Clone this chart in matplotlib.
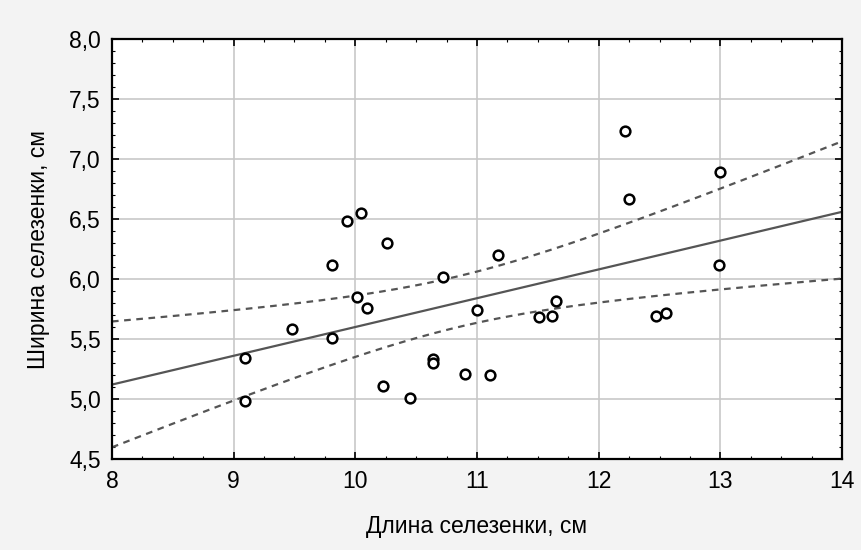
import numpy as np
import matplotlib
matplotlib.use('Agg')
import matplotlib.pyplot as plt
from matplotlib.ticker import MultipleLocator

# Длина и ширина селезенки (см)
dlina = [9.09, 9.09, 9.48, 9.81, 9.81, 9.93, 10.05, 10.01, 10.10, 10.26,
         10.23, 10.45, 10.64, 10.64, 10.72, 10.90, 11.00, 11.11, 11.17,
         11.51, 11.62, 11.65, 12.47, 12.55, 12.99, 12.22, 12.25, 13.00]
shirina = [5.34, 4.98, 5.58, 6.12, 5.51, 6.48, 6.55, 5.85, 5.76, 6.30,
           5.11, 5.01, 5.33, 5.30, 6.02, 5.21, 5.74, 5.20, 6.20,
           5.68, 5.69, 5.82, 5.69, 5.72, 6.12, 7.23, 6.67, 6.89]

# Линия регрессии и границы 95% доверительного интервала
fit_x = [8, 14]
fit_y = [5.12, 6.56]
band_x = [8, 9, 10, 11, 12, 13, 14]
band_upper = [5.65, 5.73, 5.84, 6.03, 6.47, 6.73, 7.13]
band_lower = [4.59, 4.99, 5.35, 5.66, 5.81, 5.91, 5.99]

plt.rcParams['font.family'] = ['Liberation Sans', 'DejaVu Sans']

fig = plt.figure(figsize=(8.61, 5.5), dpi=100)
fig.patch.set_facecolor('#f3f3f3')
ax = fig.add_axes([0.130, 0.1655, 0.848, 0.7635])
ax.set_facecolor('white')

# сглаживание границ: полуширина^2 как квадратичная функция x
bx = np.array(band_x, dtype=float)
centre = np.interp(bx, fit_x, fit_y)
hw = (np.array(band_upper) - np.array(band_lower)) / 2
mid_shift = (np.array(band_upper) + np.array(band_lower)) / 2 - centre
hw_coef = np.polyfit(bx, hw ** 2, 2)
xs = np.linspace(8, 14, 200)
ys = np.interp(xs, fit_x, fit_y) + np.polyval(np.polyfit(bx, mid_shift, 1), xs)
hws = np.sqrt(np.polyval(hw_coef, xs))

ax.plot(fit_x, fit_y, color='#555555', lw=1.6)
ax.plot(xs, ys + hws, color='#555555', lw=1.6, ls=(0, (3, 2.5)))
ax.plot(xs, ys - hws, color='#555555', lw=1.6, ls=(0, (3, 2.5)))
ax.plot(dlina, shirina, 'o', ms=7, mfc='white', mec='black', mew=1.8, zorder=5)

ax.set_xlim(8, 14)
ax.set_ylim(4.5, 8.0)
ax.xaxis.set_major_locator(MultipleLocator(1))
ax.xaxis.set_minor_locator(MultipleLocator(0.25))
ax.yaxis.set_minor_locator(MultipleLocator(0.1))
yt = np.arange(4.5, 8.01, 0.5)
ax.set_yticks(yt)
ax.set_yticklabels([f'{v:.1f}'.replace('.', ',') for v in yt])

ax.grid(True, which='major', color='#c8c8c8', lw=1.2)
ax.tick_params(which='both', direction='in', top=True, right=True, color='black')
ax.tick_params(which='major', length=5, width=1.2, labelsize=16.5, pad=8)
ax.tick_params(which='minor', length=2.5, width=0.8)
for sp in ax.spines.values():
    sp.set_linewidth(1.6)

ax.set_xlabel('Длина селезенки, см', fontsize=16.5, labelpad=16)
ax.set_ylabel('Ширина селезенки, см', fontsize=16.5, labelpad=14)

fig.savefig('out.png', dpi=100, facecolor=fig.get_facecolor())
